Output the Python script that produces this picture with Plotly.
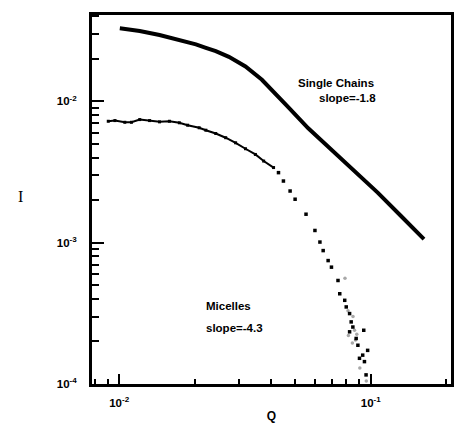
import math
import plotly.graph_objects as go

# Single chains (Q, I)
chains_q = [0.01006, 0.01207, 0.01447, 0.01735, 0.02019, 0.02211, 0.02421, 0.02730, 0.03177, 0.03694,
            0.03926, 0.04231, 0.04709, 0.05645, 0.06767, 0.07411, 0.08886, 0.10657, 0.13160, 0.16275]
chains_i = [0.03287, 0.03147, 0.02950, 0.02720, 0.02530, 0.02390, 0.02265, 0.02065, 0.01764, 0.01421,
            0.01275, 0.01114, 0.00905, 0.00645, 0.00478, 0.00410, 0.00305, 0.00226, 0.00155, 0.00106]

# Micelles, low-Q part (dense, near-continuous)
mic_low_q = [0.00905, 0.00962, 0.01053, 0.01119, 0.01207, 0.01321, 0.01447, 0.01584, 0.01735, 0.01871,
             0.02080, 0.02211, 0.02421, 0.02651, 0.02903, 0.03177, 0.03479, 0.03753, 0.04109]
mic_low_i = [0.00723, 0.00731, 0.00711, 0.00711, 0.00743, 0.00731, 0.00716, 0.00723, 0.00705, 0.00678,
             0.00650, 0.00625, 0.00592, 0.00553, 0.00509, 0.00462, 0.00421, 0.00378, 0.00340]

# Micelles, high-Q part (scattered points)
mic_high_q = [0.04298, 0.04497, 0.04780, 0.05004, 0.0553, 0.0600, 0.0628, 0.0647, 0.0677, 0.0698,
              0.0741, 0.0753, 0.0788, 0.0799, 0.0824, 0.0836, 0.0849, 0.0824, 0.0875, 0.0889,
              0.0938, 0.0972, 0.0902, 0.0944, 0.0929, 0.0958]
mic_high_i = [0.00313, 0.00273, 0.00232, 0.00203, 0.00159, 0.00122, 0.00101, 0.000879, 0.000747, 0.000671,
              0.000540, 0.000435, 0.000391, 0.000351, 0.000315, 0.000275, 0.000253, 0.000234, 0.000210, 0.000188,
              0.000240, 0.000173, 0.000152, 0.000144, 0.000160, 0.000116]

# faint grey scatter points of micelles
faint_q = [0.0790, 0.0812, 0.0850, 0.0862, 0.0815, 0.0870, 0.0845, 0.0880, 0.0905, 0.0960]
faint_i = [0.000560, 0.000330, 0.000300, 0.000240, 0.000220, 0.000205, 0.000195, 0.000225, 0.000130, 0.000105]

x_major = [0.01, 0.1]
x_major_text = ["10<sup>-2</sup>", "10<sup>-1</sup>"]
x_minor = [0.008, 0.009, 0.02, 0.03, 0.04, 0.05, 0.06, 0.07, 0.08, 0.09, 0.2]
y_major = [1e-4, 1e-3, 1e-2]
y_major_text = ["10<sup>-4</sup>", "10<sup>-3</sup>", "10<sup>-2</sup>"]
y_minor = [m * d for d in [1e-4, 1e-3, 1e-2] for m in range(2, 10)]

fig = go.Figure()
fig.add_trace(go.Scatter(x=chains_q, y=chains_i, mode="lines",
                         line=dict(color="black", width=4), showlegend=False))
fig.add_trace(go.Scatter(x=faint_q, y=faint_i, mode="markers",
                         marker=dict(color="#a8a8a8", size=3.5, symbol="circle"), showlegend=False))
fig.add_trace(go.Scatter(x=mic_low_q, y=mic_low_i, mode="lines+markers",
                         line=dict(color="black", width=2),
                         marker=dict(color="black", size=3, symbol="square"), showlegend=False))
fig.add_trace(go.Scatter(x=mic_high_q, y=mic_high_i, mode="markers",
                         marker=dict(color="black", size=3.5, symbol="square"), showlegend=False))

axis_common = dict(type="log", showgrid=False, zeroline=False, showline=True, linecolor="black",
                   linewidth=3, mirror=True, ticks="inside", tickcolor="black", tickwidth=2,
                   tickfont=dict(family="Liberation Sans", size=11.5, color="black"))

fig.update_xaxes(range=[-2.108, -0.681], tickmode="array", tickvals=x_major,
                 ticktext=["<b>%s</b>" % t for t in x_major_text],
                 ticklen=10, ticklabelstandoff=6,
                 minor=dict(tickmode="array", tickvals=x_minor, ticks="inside", ticklen=5,
                            tickwidth=2, tickcolor="black", showgrid=False),
                 title=dict(text="<b>Q</b>", font=dict(family="Liberation Sans", size=12, color="black"),
                            standoff=4),
                 **axis_common)
fig.update_yaxes(range=[-4, -1.389], tickmode="array", tickvals=y_major,
                 ticktext=["<b>%s</b>" % t for t in y_major_text],
                 ticklen=12, ticklabelstandoff=10,
                 minor=dict(tickmode="array", tickvals=y_minor, ticks="inside", ticklen=7,
                            tickwidth=2, tickcolor="black", showgrid=False),
                 **axis_common)

# axis title "I" (serif), placed in paper coordinates
fig.add_annotation(x=(15 - 92) / 362, y=(424 - 197 - 39) / 370, xref="paper", yref="paper",
                   text="I", showarrow=False,
                   font=dict(family="Liberation Serif", size=16, color="black"))

ann_font = dict(family="Liberation Sans", size=11.5, color="black")
L = math.log10
fig.add_annotation(x=L(0.0506), y=L(0.01354), text="<b>Single Chains</b>", showarrow=False,
                   font=ann_font, xanchor="left")
fig.add_annotation(x=L(0.0613), y=L(0.01062), text="<b>slope=-1.8</b>", showarrow=False,
                   font=ann_font, xanchor="left")
fig.add_annotation(x=L(0.02177), y=L(0.000358), text="<b>Micelles</b>", showarrow=False,
                   font=ann_font, xanchor="left")
fig.add_annotation(x=L(0.02177), y=L(0.000251), text="<b>slope=-4.3</b>", showarrow=False,
                   font=ann_font, xanchor="left")

fig.update_layout(width=457, height=424, margin=dict(l=92, r=3, t=15, b=39),
                  paper_bgcolor="white", plot_bgcolor="white")

fig.write_html("out.html")
